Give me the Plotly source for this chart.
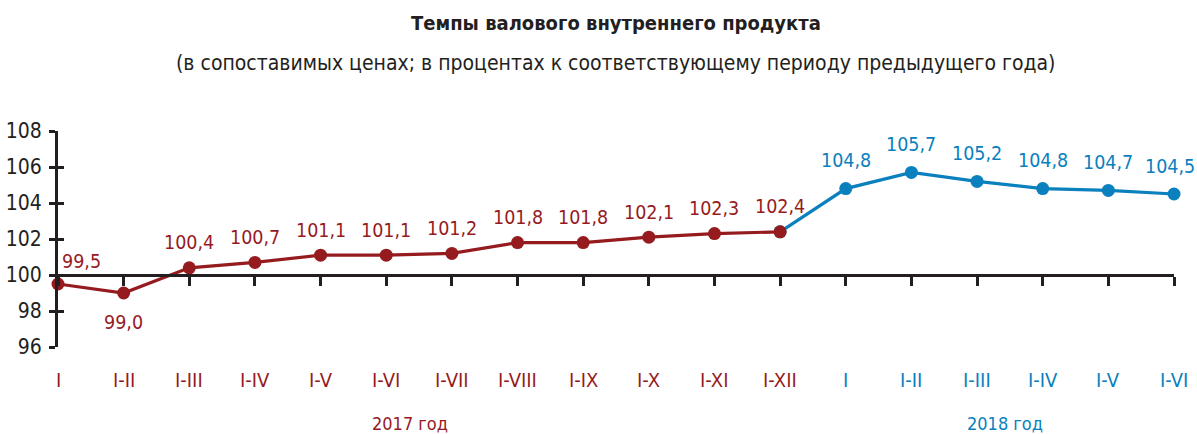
import plotly.graph_objects as go

categories_2017 = ["I", "I-II", "I-III", "I-IV", "I-V", "I-VI", "I-VII", "I-VIII", "I-IX", "I-X", "I-XI", "I-XII"]
values_2017 = [99.5, 99.0, 100.4, 100.7, 101.1, 101.1, 101.2, 101.8, 101.8, 102.1, 102.3, 102.4]
categories_2018 = ["I", "I-II", "I-III", "I-IV", "I-V", "I-VI"]
values_2018 = [104.8, 105.7, 105.2, 104.8, 104.7, 104.5]
year_labels = ["2017 год", "2018 год"]
y_ticks = [96, 98, 100, 102, 104, 106, 108]

RED = "#961B1F"
BLUE = "#0A80BE"
INK = "#231F20"
FONT = "DejaVu Sans Condensed, Liberation Sans Narrow, sans-serif"

n17 = len(categories_2017)
x17 = list(range(n17))
x18 = list(range(n17, n17 + len(categories_2018)))
all_x = x17 + x18

def fmt(v):
    return f"{v:.1f}".replace(".", ",")

fig = go.Figure()
# blue segment starts from last 2017 point
fig.add_trace(go.Scatter(
    x=[x17[-1]] + x18, y=[values_2017[-1]] + values_2018,
    mode="lines+markers", line=dict(color=BLUE, width=3.2),
    marker=dict(size=13, color=BLUE), cliponaxis=False, hoverinfo="skip", showlegend=False))
fig.add_trace(go.Scatter(
    x=x17, y=values_2017, mode="lines+markers", line=dict(color=RED, width=3.2),
    marker=dict(size=13, color=RED), cliponaxis=False, hoverinfo="skip", showlegend=False))

LBL = 19.5
ann = []
for i, (x, v) in enumerate(zip(x17, values_2017)):
    if v < 100:
        if i == 0:
            ann.append(dict(x=x, y=v, text=fmt(v), xshift=23, yshift=23))
        else:
            ann.append(dict(x=x, y=v, text=fmt(v), yshift=-29))
    else:
        ann.append(dict(x=x, y=v, text=fmt(v), yshift=25))
    ann[-1]["font"] = dict(color=RED, size=LBL, family=FONT)
for j, (x, v) in enumerate(zip(x18, values_2018)):
    ann.append(dict(x=x, y=v, text=fmt(v), yshift=28, xshift=(-4 if j == len(x18) - 1 else 0),
                    font=dict(color=BLUE, size=LBL, family=FONT)))
for a in ann:
    a.update(xref="x", yref="y", showarrow=False, yanchor="middle", xanchor="center")

PH = 434 - 131 - 87  # plot height px
def py(px_y):
    return (347 - px_y) / PH

for x, c in zip(x17, categories_2017):
    ann.append(dict(x=x, y=py(380), xref="x", yref="paper", text=c, showarrow=False, yanchor="middle",
                    font=dict(color=RED, size=20, family=FONT)))
for x, c in zip(x18, categories_2018):
    ann.append(dict(x=x, y=py(380), xref="x", yref="paper", text=c, showarrow=False, yanchor="middle",
                    font=dict(color=BLUE, size=20, family=FONT)))
ann.append(dict(x=5.36, y=py(423), xref="x", yref="paper", text=year_labels[0], showarrow=False,
                yanchor="middle", font=dict(color=RED, size=18, family=FONT)))
ann.append(dict(x=14.43, y=py(423), xref="x", yref="paper", text=year_labels[1], showarrow=False,
                yanchor="middle", font=dict(color=BLUE, size=18, family=FONT)))
ann.append(dict(x=0.5, y=py(23), xref="paper", yref="paper", text="<b>Темпы валового внутреннего продукта</b>",
                showarrow=False, yanchor="middle", font=dict(color=INK, size=20, family=FONT)))
ann.append(dict(x=0.5, y=py(63), xref="paper", yref="paper",
                text="(в сопоставимых ценах; в процентах к соответствующему периоду предыдущего года)",
                showarrow=False, yanchor="middle", font=dict(color=INK, size=21, family=FONT)))

y0, y1 = y_ticks[0], y_ticks[-1]
fig.update_layout(
    width=1197, height=434,
    margin=dict(l=58, r=23, t=131, b=87, autoexpand=False),
    paper_bgcolor="white", plot_bgcolor="white",
    font=dict(family=FONT, color=INK),
    annotations=ann,
    xaxis=dict(range=[all_x[0], all_x[-1]], anchor="free", position=(100 - y0) / (y1 - y0),
               showline=True, linecolor=INK, linewidth=3, ticks="outside", ticklen=9,
               tickwidth=3, tickcolor=INK, tickvals=all_x, showticklabels=False,
               showgrid=False, zeroline=False, automargin=False),
    yaxis=dict(range=[y0, y1], tickvals=y_ticks, showline=True, linecolor=INK, linewidth=3,
               ticks="outside", ticklen=6, tickwidth=3, tickcolor=INK, showgrid=False,
               zeroline=False, tickfont=dict(size=21, color=INK, family=FONT), ticklabelstandoff=3,
               automargin=False),
    yaxis2=dict(range=[y0, y1], tickvals=y_ticks, overlaying="y", side="left", ticks="inside",
                ticklen=6, tickwidth=3, tickcolor=INK, showticklabels=False, showgrid=False,
                zeroline=False, showline=False, automargin=False),
)
fig.add_trace(go.Scatter(x=[None], y=[None], yaxis="y2", showlegend=False, hoverinfo="skip"))
fig.write_html("out.html", config={"displayModeBar": False},
               post_script="document.body.style.margin='0';document.body.style.overflow='hidden';")
